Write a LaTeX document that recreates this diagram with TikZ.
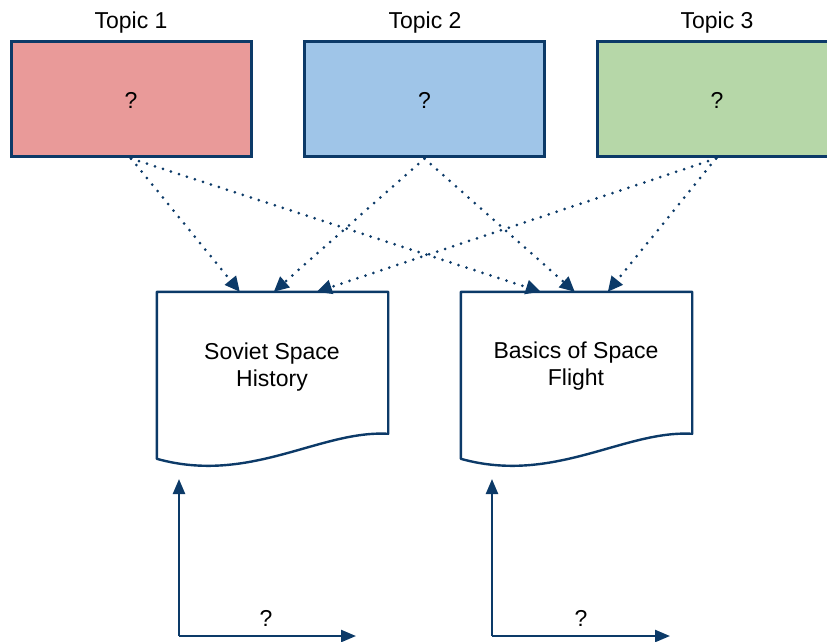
\documentclass[tikz,border=0pt]{standalone}
\usepackage{fontspec}
\setmainfont{Liberation Sans}
\usetikzlibrary{arrows.meta,calc}
\definecolor{edge}{RGB}{12,58,104}
\definecolor{fillred}{RGB}{233,154,153}
\definecolor{fillblue}{RGB}{159,197,232}
\definecolor{fillgreen}{RGB}{182,215,168}
\tikzset{
  txt/.style={font=\fontsize{23}{27}\selectfont, align=center, inner sep=0pt},
  topicbox/.style={draw=edge, line width=3pt, minimum width=240pt, minimum height=115pt, inner sep=0pt},
  docbox/.style={minimum width=231pt, minimum height=176pt, inner sep=0pt},
  docline/.style={draw=edge, line width=2.4pt, line join=round},
  link/.style={draw=edge, line width=3pt, dash pattern=on 0pt off 8.4pt, line cap=round,
    -{Triangle[length=15pt,width=14pt]}},
  axis/.style={draw=edge, line width=2.4pt, -{Triangle[length=15pt,width=12pt]}}
}
\begin{document}
\begin{tikzpicture}[x=1pt,y=-1pt]
\useasboundingbox (0,0) rectangle (827,641);
\clip (0,0) rectangle (827,641);

% topic labels
\node[txt] (l1) at (131,23) {Topic 1};
\node[txt] (l2) at (425,23) {Topic 2};
\node[txt] (l3) at (717,23) {Topic 3};

% topic boxes
\node[topicbox, fill=fillred]   (t1) at (131,98.5) {};
\node[topicbox, fill=fillblue]  (t2) at (424.5,98.5) {};
\node[topicbox, fill=fillgreen] (t3) at (717,98.5) {};
\node[txt] (q1t) at ([yshift=-2pt]t1.center) {?};
\node[txt] (q2t) at ([yshift=-2pt]t2.center) {?};
\node[txt] (q3t) at ([yshift=-2pt]t3.center) {?};

% document shapes (y grows downward, so shifts below the top are negative)
\node[docbox] (d1) at (272.5,380) {};
\node[docbox] (d2) at (576.5,380) {};
\foreach \d in {d1,d2}{
  \draw[docline] (\d.north west) -- (\d.north east) -- ([yshift=-142pt]\d.north east)
    .. controls ([xshift=-68pt,yshift=-138pt]\d.north east) and ([xshift=93pt,yshift=-193pt]\d.north west)
    .. ([yshift=-167pt]\d.north west) -- cycle;
}
\node[txt] (d1t) at (272,367) {Soviet Space\\History};
\node[txt] (d2t) at (576,366) {Basics of Space\\Flight};

% arrival points on the document tops
\coordinate (d1a) at ([xshift=83pt]d1.north west);
\coordinate (d1b) at ([xshift=117pt]d1.north west);
\coordinate (d1c) at ([xshift=160pt]d1.north west);
\coordinate (d2a) at ([xshift=80pt]d2.north west);
\coordinate (d2b) at ([xshift=114pt]d2.north west);
\coordinate (d2c) at ([xshift=147pt]d2.north west);

% dotted links from topics to documents
\draw[link] ([yshift=-1pt]t1.south) -- (d1a);
\draw[link] ([yshift=-1pt]t1.south) -- (d2a);
\draw[link] ([yshift=-1pt]t2.south) -- (d1b);
\draw[link] ([yshift=-1pt]t2.south) -- (d2b);
\draw[link] ([xshift=-1pt,yshift=-1pt]t3.south) -- (d1c);
\draw[link] ([xshift=-1pt,yshift=-1pt]t3.south) -- (d2c);

% axes below the documents
\coordinate (o1) at (179,636);
\coordinate (y1) at (179,479);
\coordinate (x1) at (356,636);
\coordinate (o2) at (492,636);
\coordinate (y2) at (492,479);
\coordinate (x2) at (670,636);
\draw[axis] (o1) -- (y1);
\draw[axis] (o1) -- (x1);
\draw[axis] (o2) -- (y2);
\draw[axis] (o2) -- (x2);
\node[txt] (q1) at (266,618) {?};
\node[txt] (q2) at (581,618) {?};
\end{tikzpicture}
\end{document}
